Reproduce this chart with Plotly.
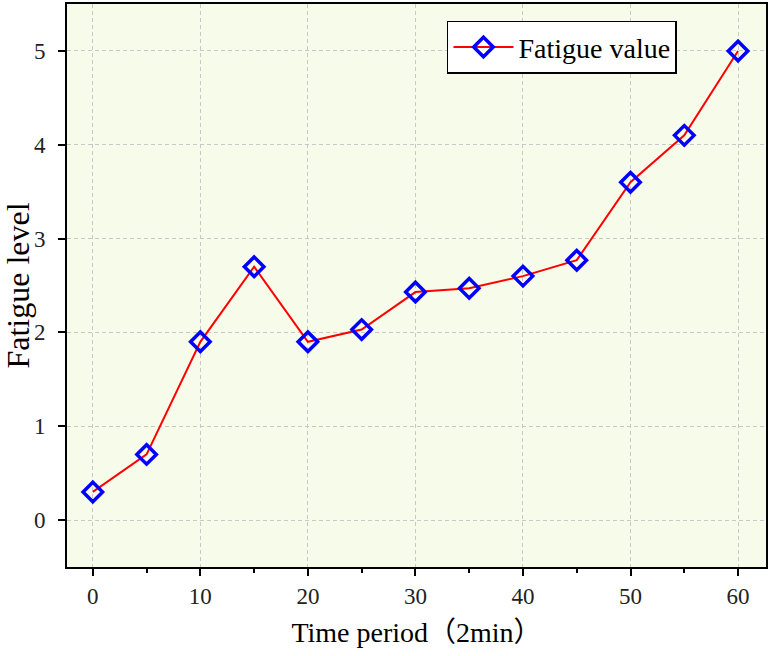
"""Fatigue level over time — line chart with open diamond markers."""
import plotly.graph_objects as go

time_period = [0, 5, 10, 15, 20, 25, 30, 35, 40, 45, 50, 55, 60]
fatigue_value = [0.3, 0.7, 1.9, 2.7, 1.9, 2.03, 2.43, 2.47, 2.6, 2.77, 3.6, 4.1, 5.0]
x_ticks = [0, 10, 20, 30, 40, 50, 60]
y_ticks = [0, 1, 2, 3, 4, 5]

_FONT = "Liberation Serif, Noto Sans CJK SC, serif"
_BG = "#f7fbea"

fig = go.Figure()
fig.add_trace(go.Scatter(
    x=time_period, y=fatigue_value,
    name="Fatigue value",
    mode="lines+markers",
    line=dict(color="#ff0000", width=2),
    marker=dict(symbol="diamond-open", size=15, color="#0000ff",
                line=dict(color="#0000ff", width=3.5)),
))

axis_common = dict(
    showline=True, linecolor="black", linewidth=2, mirror=True,
    ticks="outside", ticklen=7, tickwidth=2, tickcolor="black",
    showgrid=True, gridcolor="#c8c8c8", griddash="4px,3px", gridwidth=1,
    zeroline=False, automargin=False,
    tickfont=dict(family=_FONT, size=23, color="#222222"),
)

fig.update_layout(
    width=770, height=656,
    margin=dict(l=67, r=4, t=4, b=89),
    paper_bgcolor="white",
    plot_bgcolor=_BG,
    showlegend=True,
    xaxis=dict(
        **axis_common,
        range=[-2.4, 62.6],
        tickvals=x_ticks,
        minor=dict(ticks="outside", ticklen=4, tickwidth=2, tickcolor="black",
                   dtick=5, tick0=0, showgrid=False),
        title=dict(text="Time period（2min）", standoff=15,
                   font=dict(family=_FONT, size=28, color="black")),
    ),
    yaxis=dict(
        **axis_common,
        range=[-0.5, 5.5],
        tickvals=y_ticks,
        ticklabelstandoff=8,
        title=dict(text="Fatigue level", standoff=6,
                   font=dict(family=_FONT, size=32, color="black")),
    ),
    legend=dict(
        x=0.5436, y=0.97, xanchor="left", yanchor="top",
        font=dict(family=_FONT, size=28, color="black"),
        bgcolor="white", bordercolor="black", borderwidth=1.5,
        itemwidth=60,
    ),
)

fig.write_html("out.html", config={"displayModeBar": False},
               post_script="document.body.style.margin='0';")
